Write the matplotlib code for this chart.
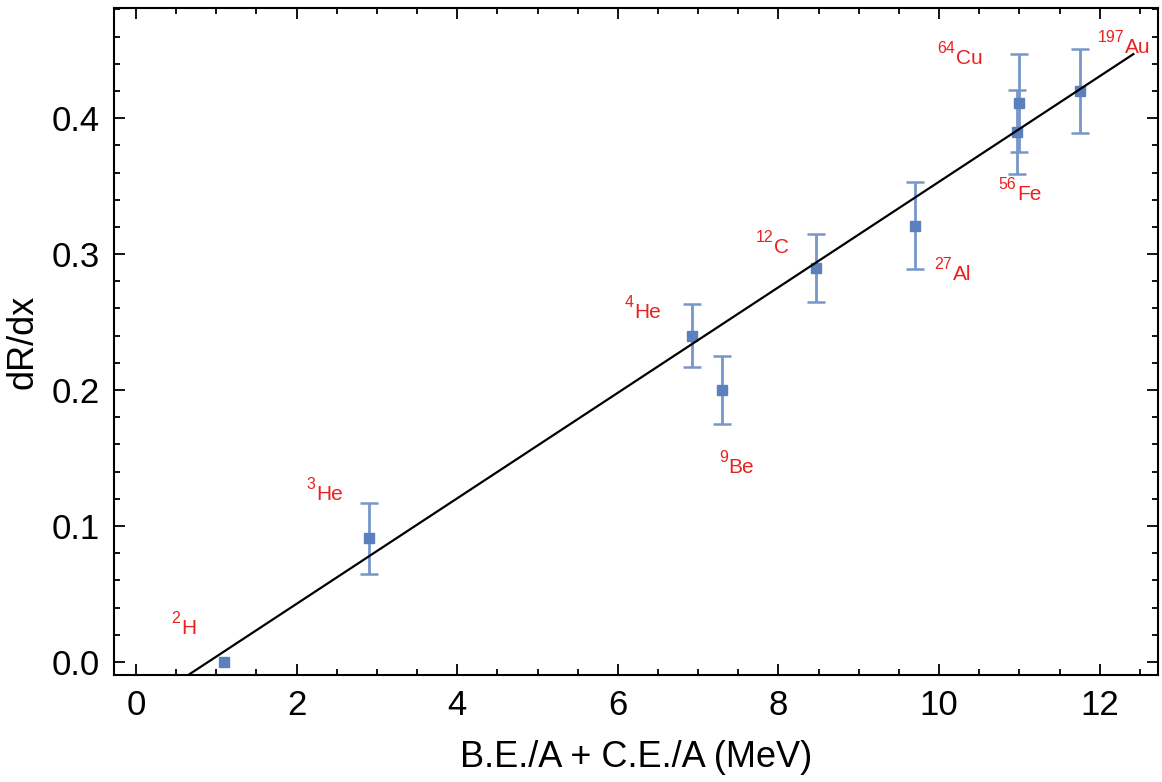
import matplotlib
matplotlib.use("Agg")
import matplotlib.pyplot as plt
from matplotlib.ticker import MultipleLocator, FormatStrFormatter
import numpy as np

plt.rcParams['font.family'] = ['Liberation Sans', 'DejaVu Sans']

# data
nuclei = ['2', '3', '4', '9', '12', '27', '56', '64', '197']
symbols = ['H', 'He', 'He', 'Be', 'C', 'Al', 'Fe', 'Cu', 'Au']
x_vals = [1.10, 2.90, 6.92, 7.30, 8.47, 9.70, 10.97, 11.00, 11.76]
y_vals = [0.000, 0.091, 0.240, 0.200, 0.290, 0.321, 0.390, 0.411, 0.420]
y_err = [0.0, 0.026, 0.023, 0.025, 0.025, 0.032, 0.031, 0.036, 0.031]
label_x = [0.56, 2.24, 6.20, 7.38, 7.95, 10.17, 10.97, 10.21, 12.32]
label_y = [0.027, 0.125, 0.259, 0.145, 0.307, 0.287, 0.346, 0.446, 0.454]
fit_slope = 0.0388
fit_intercept = -0.0348
fit_x = [0.0, 12.42]

fig = plt.figure(figsize=(11.62, 7.82), dpi=100)
ax = fig.add_axes([0.0981, 0.1368, 0.8985, 0.853])

xe = np.array(x_vals)
ye = np.array(y_vals)
ee = np.array(y_err)
m = ee > 0
ax.errorbar(xe[m], ye[m], yerr=ee[m], fmt='none', ecolor='#7797c9',
            elinewidth=2, capsize=6.5, capthick=1.8, zorder=2)
ax.plot(x_vals, y_vals, 's', color='#5b80bd', markersize=7, zorder=3)

fx = np.array(fit_x)
ax.plot(fx, fit_slope * fx + fit_intercept, color='black', lw=1.6, zorder=4)

red = '#e8231f'
for n, s, lx, ly in zip(nuclei, symbols, label_x, label_y):
    ax.annotate(s, (lx, ly), xytext=(0, -6), textcoords='offset points',
                color=red, fontsize=15, ha='left', va='baseline')
    ax.annotate(n, (lx, ly), xytext=(-0.5, 2), textcoords='offset points',
                color=red, fontsize=11.5, ha='right', va='baseline')

ax.set_xlim(-0.274, 12.727)
ax.set_ylim(-0.00956, 0.481)
ax.xaxis.set_major_locator(MultipleLocator(2))
ax.xaxis.set_minor_locator(MultipleLocator(0.5))
ax.yaxis.set_major_locator(MultipleLocator(0.1))
ax.yaxis.set_minor_locator(MultipleLocator(0.02))
ax.yaxis.set_major_formatter(FormatStrFormatter('%.1f'))

ax.tick_params(which='both', direction='in', top=True, right=True, width=1.3)
ax.tick_params(which='major', length=8, labelsize=25, pad=10)
ax.tick_params(which='minor', length=4.5)
for sp in ax.spines.values():
    sp.set_linewidth(1.5)

ax.set_xlabel('B.E./A + C.E./A (MeV)', fontsize=26, labelpad=13)
ax.set_ylabel('dR/dx', fontsize=26, labelpad=8)

fig.savefig('out.png', dpi=100)
